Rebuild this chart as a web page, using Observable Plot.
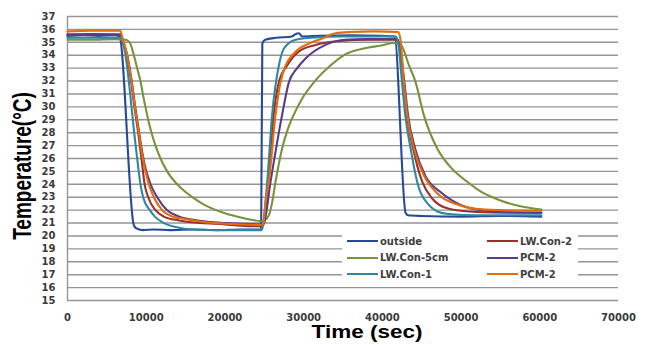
<!DOCTYPE html>
<html>
<head>
<meta charset="utf-8">
<script src="https://cdn.jsdelivr.net/npm/d3@7"></script>
<script src="https://cdn.jsdelivr.net/npm/@observablehq/plot@0.6"></script>
<style>
  body { margin: 0; background: #fff; }
  #chart { position: relative; width: 649px; height: 345px; }
  .title { position: absolute; font-family: "Liberation Sans", Arial, sans-serif; font-weight: bold; color: #000; white-space: nowrap; line-height: 1; }
  #legend { position: absolute; left: 342px; top: 230px; width: 236px; height: 52px; background: #fff; }
  .item { position: absolute; height: 12px; display: flex; align-items: center; font-family: "DejaVu Sans", sans-serif; font-weight: bold; font-size: 10px; color: #404040; white-space: nowrap; }
  .swatch { display: inline-block; width: 31px; height: 0; border-top: 2px solid; margin-right: 2px; }
</style>
</head>
<body>
<div id="chart"></div>
<script>
// Axis ticks
const xTicks = [0, 10000, 20000, 30000, 40000, 50000, 60000, 70000];
const yTicks = d3.range(15, 38);

// Temperature records: [time (sec), temperature (°C)]
const outside = [[0,35.5],[2000,35.55],[4000,35.5],[6000,35.55],[6600,35.45],[8400,20.9],[8700,20.6],[9500,20.45],[11000,20.5],[13000,20.45],[16000,20.5],[19000,20.45],[22000,20.5],[24600,20.5],[24750,34.9],[25100,35.2],[26500,35.35],[28500,35.45],[29000,35.65],[29400,35.7],[29800,35.45],[32000,35.5],[36000,35.55],[40000,35.5],[41550,35.45],[42950,21.8],[43300,21.6],[45000,21.55],[50000,21.5],[55000,21.55],[60200,21.5]];

const lwCon2 = [[0,35.6],[3000,35.6],[6750,35.6],[7050,35.1],[7550,34],[8080,32],[8500,30],[8980,28],[9400,26],[9800,24],[10250,23],[11180,22],[12240,21.5],[14140,21.2],[17000,21.0],[20000,20.9],[22000,20.8],[24600,20.75],[24900,20.9],[25500,24.2],[26200,29.4],[26850,31.9],[27900,33.2],[29400,34.3],[31500,34.8],[34500,35.1],[38000,35.2],[41800,35.2],[42100,35.0],[42700,31.9],[43100,29.4],[43900,26.8],[45060,24.2],[46330,22.9],[48450,22.1],[52000,21.85],[56000,21.8],[60200,21.8]];

const lwCon5cm = [[0,35.2],[3000,35.2],[6000,35.25],[7400,35.2],[7900,35.0],[8430,34],[8850,33],[9270,32],[9570,31],[9900,30],[10250,29],[10670,28],[11180,27],[11815,26],[12660,25],[13930,24],[15000,23.4],[16000,22.95],[17000,22.55],[18500,22.1],[20000,21.75],[21500,21.5],[23000,21.3],[24600,21.15],[25000,21.2],[25580,21.6],[26000,22.6],[26430,24.2],[27270,26.8],[28000,28.3],[28750,29.4],[29820,30.65],[31300,31.9],[33410,33.2],[35400,34.1],[37500,34.5],[39800,34.75],[41500,34.95],[42300,34.85],[43370,33.24],[44210,31.94],[45270,29.36],[46970,26.78],[48440,25.48],[50980,24.1],[52470,23.45],[55000,22.75],[57550,22.3],[60200,22.05]];

const pcm2a = [[0,35.6],[3000,35.65],[6750,35.6],[7100,35.0],[7650,33.8],[8200,31.8],[8650,29.8],[9150,27.8],[9700,25.8],[10550,24],[11390,23],[12660,22],[14140,21.5],[16500,21.2],[20000,21.0],[24600,20.9],[24950,21.0],[25790,24.2],[27270,29.4],[28120,31.9],[29180,33.0],[30240,33.75],[32780,34.8],[35320,35.2],[38000,35.25],[41800,35.25],[42150,34.9],[42800,31.9],[43250,29.4],[44150,26.8],[45500,24.6],[47390,23.4],[49930,22.4],[52500,22.0],[56000,21.85],[60200,21.8]];

const lwCon1 = [[0,35.35],[3000,35.35],[6700,35.35],[7000,35.0],[7370,34],[7790,32],[8130,30],[8470,28],[8850,26],[9270,24],[9610,23],[10460,22],[11100,21.5],[12240,21],[13720,20.7],[16000,20.5],[20000,20.45],[24600,20.45],[24800,20.7],[25370,24.2],[26000,29.4],[26850,33.2],[27480,34.5],[28970,35.2],[31000,35.35],[35000,35.45],[41700,35.45],[42000,35.0],[42500,31.9],[42900,29.4],[43580,26.8],[44420,24.2],[45900,22.4],[47000,21.9],[48400,21.7],[52000,21.6],[60200,21.6]];

const pcm2b = [[0,35.85],[3000,35.9],[6700,35.9],[7000,35.3],[7580,34],[8130,32],[8560,30],[9060,28],[9570,26],[10330,24],[10970,23],[12030,22],[13300,21.5],[15000,21.3],[17000,21.1],[20000,20.95],[24600,20.85],[24900,21.0],[25155,22.6],[25580,24.2],[26430,29.4],[27060,31.9],[27700,33.2],[28540,34.0],[29390,34.5],[30660,34.9],[32350,35.3],[34050,35.7],[36000,35.8],[39000,35.85],[42000,35.8],[42300,35.2],[42730,31.9],[43160,29.4],[44000,26.8],[45270,24.7],[47170,23.2],[49710,22.4],[51840,22.1],[55000,22.0],[60200,21.95]];

const seriesNames = ["outside", "LW.Con-2", "LW.Con-5cm", "PCM-2", "LW.Con-1", "PCM-2"];
const seriesColors = ["#274a97", "#9b302c", "#77933c", "#583b8a", "#2f88a2", "#e46c0a"];
const seriesData = [outside, lwCon2, lwCon5cm, pcm2a, lwCon1, pcm2b];

const plot = Plot.plot({
  width: 649,
  height: 345,
  marginLeft: 67,
  marginRight: 31,
  marginTop: 16,
  marginBottom: 45,
  style: { fontFamily: "DejaVu Sans, sans-serif", fontSize: "10px", fontWeight: "bold", color: "#3a3a3a", background: "#fff", overflow: "visible" },
  x: { domain: [0, 70000], label: null },
  y: { domain: [15, 37], label: null },
  marks: [
    Plot.gridY(yTicks, { stroke: "#959595", strokeOpacity: 1, strokeWidth: 1.4 }),
    Plot.ruleX([0], { stroke: "#959595", strokeWidth: 1.4 }),
    Plot.axisY(yTicks, { tickSize: 0, tickPadding: 12, tickFormat: d3.format("d") }),
    Plot.axisX(xTicks, { tickSize: 0, tickPadding: 13, tickFormat: d3.format("d") }),
    ...seriesData.map((data, i) => Plot.line(data, {
      x: d => d[0],
      y: d => d[1],
      curve: "monotone-x",
      stroke: seriesColors[i],
      strokeWidth: 2.1,
      strokeLinejoin: "round"
    }))
  ]
});

const chart = document.getElementById("chart");
chart.appendChild(plot);

// Axis titles
const xTitle = document.createElement("div");
xTitle.className = "title";
xTitle.textContent = "Time (sec)";
xTitle.style.fontSize = "18px";
xTitle.style.left = "367px";
xTitle.style.top = "332px";
xTitle.style.transform = "translate(-50%, -50%) scaleX(1.25)";
chart.appendChild(xTitle);

const yTitle = document.createElement("div");
yTitle.className = "title";
yTitle.textContent = "Temperature(°C)";
yTitle.style.fontSize = "19px";
yTitle.style.left = "22px";
yTitle.style.top = "166px";
yTitle.style.transform = "translate(-50%, -50%) rotate(-90deg) scaleY(1.35)";
chart.appendChild(yTitle);

// Legend
const legend = document.createElement("div");
legend.id = "legend";
seriesNames.forEach((name, i) => {
  const item = document.createElement("div");
  item.className = "item";
  item.style.left = (i % 2 ? 145 : 5) + "px";
  item.style.top = (5 + Math.floor(i / 2) * 16.5) + "px";
  const sw = document.createElement("span");
  sw.className = "swatch";
  sw.style.borderTopColor = seriesColors[i];
  item.appendChild(sw);
  item.appendChild(document.createTextNode(name));
  legend.appendChild(item);
});
chart.appendChild(legend);
</script>
</body>
</html>
